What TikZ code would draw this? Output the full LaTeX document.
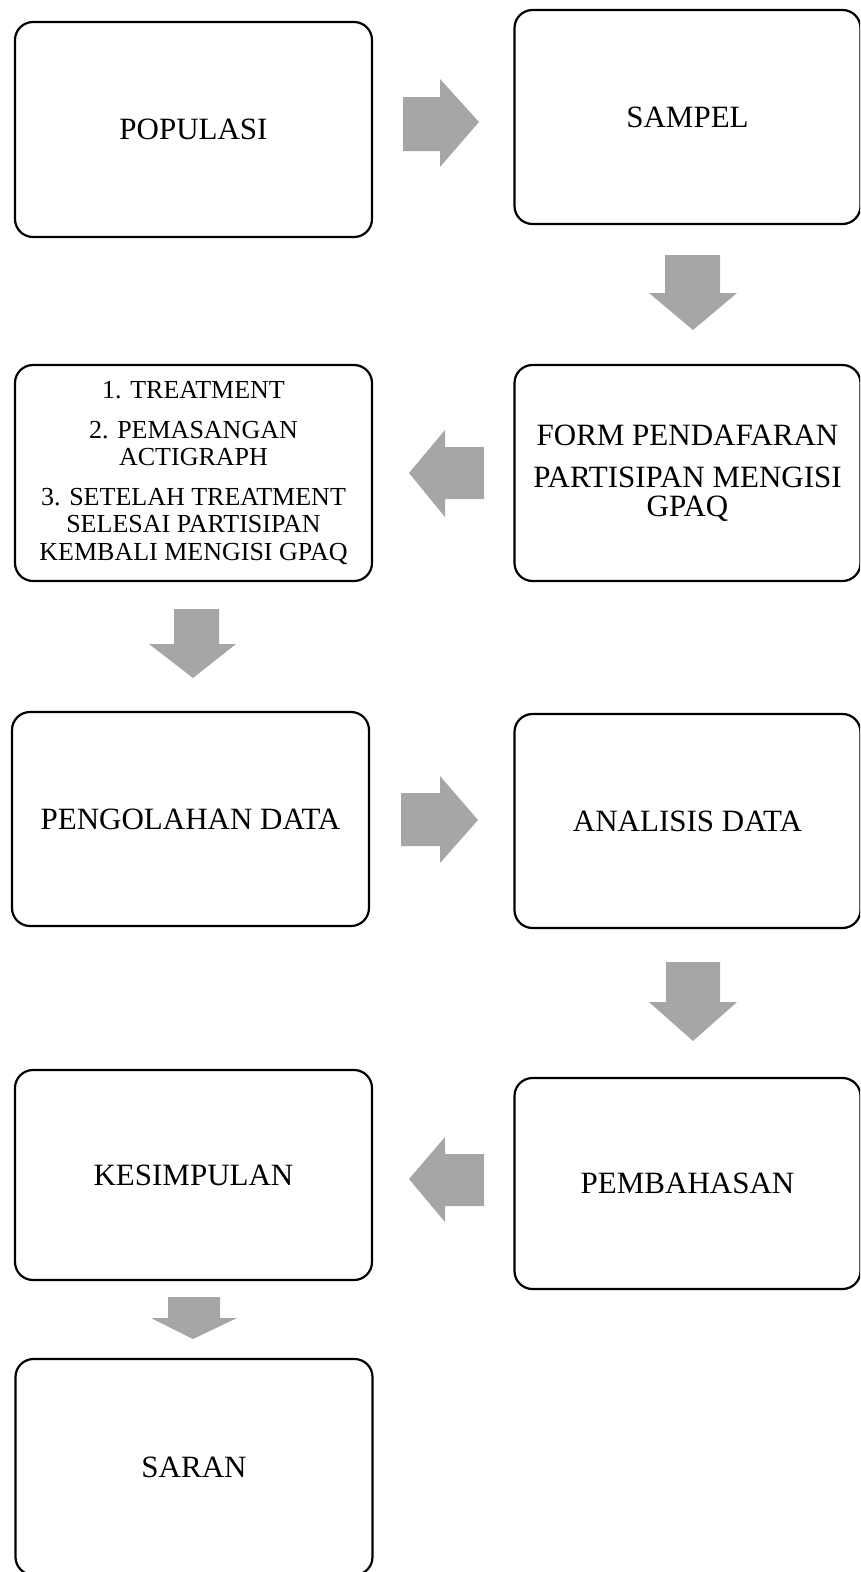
\documentclass[tikz,border=0pt]{standalone}
\usepackage{fontspec}
\setmainfont{Liberation Serif}
\definecolor{arrowgray}{RGB}{166,166,166}
\begin{document}
\begin{tikzpicture}[x=1pt,y=-1pt,
  box/.style={draw=black, line width=2.2pt, rounded corners=18pt, fill=white,
    align=center, inner sep=0pt, font=\fontsize{31}{28.5}\selectfont},
  leftcol/.style={minimum width=357pt},
  rightcol/.style={minimum width=346pt},
  blockarrow/.style={fill=arrowgray, draw=none}]
\useasboundingbox (0,0) rectangle (860,1572);
\clip (0,0) rectangle (860,1572);

% boxes
\node[box, leftcol, minimum height=215pt] (populasi) at (193.5,129.5) {POPULASI};
\node[box, rightcol, minimum height=214pt] (sampel) at (687.5,117) {SAMPEL};
\node[box, rightcol, minimum height=216pt] (form) at (687.5,473)
  {FORM PENDAFARAN\\[14pt]PARTISIPAN MENGISI\\GPAQ};
\node[box, leftcol, minimum height=216pt, font=\fontsize{26}{27.5}\selectfont] (treat) at (193.5,473)
  {1. TREATMENT\\[12pt]2. PEMASANGAN\\ACTIGRAPH\\[12pt]3. SETELAH TREATMENT\\SELESAI PARTISIPAN\\KEMBALI MENGISI GPAQ};
\node[box, leftcol, minimum height=214pt] (olah) at (190.5,819) {PENGOLAHAN DATA};
\node[box, rightcol, minimum height=214pt] (analisis) at (687.5,821) {ANALISIS DATA};
\node[box, rightcol, minimum height=211pt] (bahas) at (687.5,1183.5) {PEMBAHASAN};
\node[box, leftcol, minimum height=210pt] (simpul) at (193.5,1175) {KESIMPULAN};
\node[box, leftcol, minimum height=216pt] (saran) at (194,1467) {SARAN};

% block arrows
% populasi -> sampel
\fill[blockarrow] (403,97) -- (440,97) -- (440,79) -- (479,122) -- (440,167) -- (440,151) -- (403,151) -- cycle;
% sampel -> form
\fill[blockarrow] (665,255) -- (720,255) -- (720,293) -- (737,293) -- (693,330) -- (649,293) -- (665,293) -- cycle;
% form -> treat
\fill[blockarrow] (484,447) -- (445,447) -- (445,430) -- (409,473) -- (445,517) -- (445,499) -- (484,499) -- cycle;
% treat -> olah
\fill[blockarrow] (174,609) -- (219,609) -- (219,644) -- (236,644) -- (193,678) -- (149,644) -- (174,644) -- cycle;
% olah -> analisis
\fill[blockarrow] (401,793) -- (440,793) -- (440,776) -- (478,820) -- (440,863) -- (440,846) -- (401,846) -- cycle;
% analisis -> bahas
\fill[blockarrow] (666,962) -- (720,962) -- (720,1002) -- (737,1002) -- (693,1041) -- (649,1002) -- (666,1002) -- cycle;
% bahas -> simpul
\fill[blockarrow] (484,1154) -- (445,1154) -- (445,1137) -- (409,1179) -- (445,1222) -- (445,1206) -- (484,1206) -- cycle;
% simpul -> saran
\fill[blockarrow] (168,1297) -- (220,1297) -- (220,1318) -- (237,1318) -- (193,1339) -- (151,1318) -- (168,1318) -- cycle;
\end{tikzpicture}
\end{document}
